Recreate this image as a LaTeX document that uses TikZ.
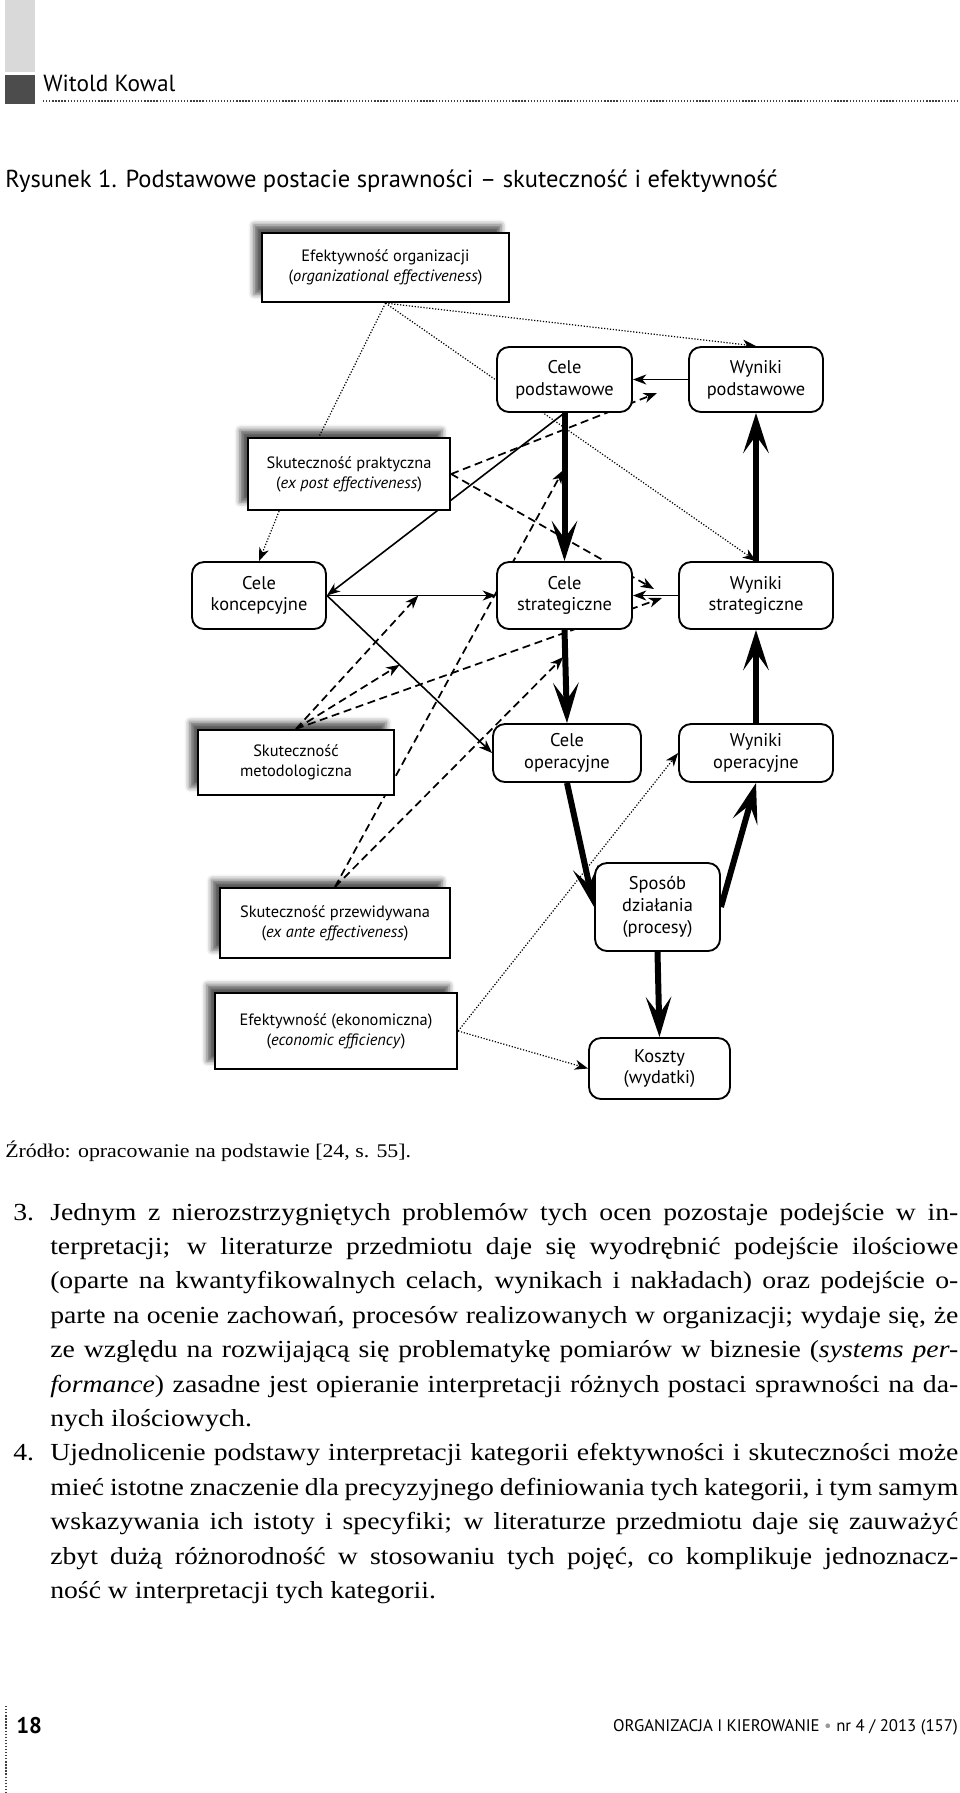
\documentclass[tikz,border=0pt]{standalone}
\usepackage{fontspec}
\setmainfont[FakeStretch=1.13]{Liberation Serif}
\newfontfamily\diagfont{PT Sans}
\usetikzlibrary{arrows.meta,shadows.blur}
\pgfdeclarelayer{bg}
\pgfsetlayers{bg,main}

\begin{document}
\begin{tikzpicture}[x=0.75pt,y=0.75pt,yscale=-1,xscale=1,
  celbox/.style={draw, line width=1.4pt, rounded corners=9pt, fill=white, align=center, inner sep=0pt,
    font=\diagfont\fontsize{13.8}{16.3}\selectfont},
  skubox/.style={draw, line width=1.7pt, fill=white, align=center, inner sep=0pt,
    font=\diagfont\fontsize{12.3}{15}\selectfont,
    blur shadow={shadow xshift=-6pt, shadow yshift=6pt, shadow blur radius=4pt, shadow opacity=65}},
  linia/.style={line width=1.2pt, -{Stealth[length=10pt,width=7.5pt,inset=3pt]}},
  kreski/.style={line width=1.3pt, dash pattern=on 6pt off 3.5pt, -{Stealth[length=10pt,width=7.5pt,inset=3pt]}},
  kropki/.style={line width=0.9pt, dash pattern=on 0.9pt off 1.3pt, -{Stealth[length=10pt,width=7.5pt,inset=3pt]}},
  gruba/.style={line width=4.5pt, -{Stealth[length=30pt,width=19pt,inset=13pt]}},
  tekst/.style={inner sep=0pt, anchor=base west, font=\fontsize{18.4}{22}\selectfont},
  ]
\useasboundingbox (0,0) rectangle (960,1793);

% Header
\fill [black!15] (5,0) rectangle (35,72);
\fill [black!70] (5,75) rectangle (35,104);
\draw (43,91) node (autor) [anchor=base west, inner sep=0pt, font=\diagfont\fontsize{17.5}{20}\selectfont] {Witold Kowal};
\draw [black!75, line width=1.1pt, dash pattern=on 1pt off 1.3pt] (43,101) -- (960,101);

% Caption
\draw (5,187) node (rys) [anchor=base west, inner sep=0pt, font=\diagfont\fontsize{18.4}{22}\selectfont] {Rysunek 1. Podstawowe postacie sprawności – skuteczność i efektywność};

% Text Node
\draw (385.5,267.5) node (eo) [skubox, minimum width=185.25pt, minimum height=51.75pt] {Efektywność organizacji\\(\textit{organizational effectiveness})};
% Text Node
\draw (564.5,379.5) node (cp) [celbox, minimum width=101.25pt, minimum height=48.75pt] {Cele\\podstawowe};
% Text Node
\draw (756,379.5) node (wp) [celbox, minimum width=100.5pt, minimum height=48.75pt] {Wyniki\\podstawowe};
% Text Node
\draw (349,474) node (sp) [skubox, minimum width=151.5pt, minimum height=54pt] {Skuteczność praktyczna\\(\textit{ex post effectiveness})};
% Text Node
\draw (259,595.5) node (ck) [celbox, minimum width=100.5pt, minimum height=50.25pt] {Cele\\koncepcyjne};
% Text Node
\draw (564.5,595.5) node (cs) [celbox, minimum width=101.25pt, minimum height=50.25pt] {Cele\\strategiczne};
% Text Node
\draw (756,595.5) node (ws) [celbox, minimum width=115.5pt, minimum height=50.25pt] {Wyniki\\strategiczne};
% Text Node
\draw (296,762.5) node (sm) [skubox, minimum width=147pt, minimum height=48.75pt] {Skuteczność\\metodologiczna};
% Text Node
\draw (567,753) node (co) [celbox, minimum width=111pt, minimum height=43.5pt] {Cele\\operacyjne};
% Text Node
\draw (756,753) node (wo) [celbox, minimum width=115.5pt, minimum height=43.5pt] {Wyniki\\operacyjne};
% Text Node
\draw (335,923) node (spz) [skubox, minimum width=172.5pt, minimum height=52.5pt] {Skuteczność przewidywana\\(\textit{ex ante effectiveness})};
% Text Node
\draw (657.5,907) node (sd) [celbox, minimum width=93.75pt, minimum height=66pt] {Sposób\\działania\\(procesy)};
% Text Node
\draw (336,1031) node (ee) [skubox, minimum width=181.5pt, minimum height=57pt] {Efektywność (ekonomiczna)\\(\textit{economic efficiency})};
% Text Node
\draw (659.5,1068.5) node (ko) [celbox, minimum width=105.75pt, minimum height=45.75pt] {Koszty\\(wydatki)};

% free ends of the dashed arrows
\coordinate (gs) at (657,393);
\coordinate (kt) at (654,589);
\coordinate (kb) at (662,598);

\begin{pgfonlayer}{bg}
% Connection
\draw [kropki] (eo.south) -- (wp.north);
% Connection
\draw [kropki] (eo.south) -- (ws.north);
% Connection
\draw [kropki, -] (eo.south) -- (sp.129);
% Connection
\draw [kropki] (sp.208) -- (ck.north);
% Connection
\draw [kropki] (ee.east) -- (ko.west);
% Connection
\draw [kropki] (ee.east) -- (wo.west);
% Connection
\draw [linia] (wp.west) -- (cp.east);
% Connection
\draw [linia] (cp.south) -- (ck.east);
% Connection
\draw [linia] (ck.east) -- coordinate[pos=0.54] (it) (cs.west);
% Connection
\draw [linia] (ck.east) -- coordinate[pos=0.44] (jt) (co.west);
% Connection
\draw [linia] (ws.west) -- (cs.east);
% Connection
\draw [gruba] (cp.south) -- coordinate[pos=0.37] (lt) (cs.north);
% Connection
\draw [gruba] (ws.north) -- (wp.south);
% Connection
\draw [gruba] (cs.south) -- coordinate[pos=0.27] (nt) (co.north);
% Connection
\draw [gruba] (wo.north) -- (ws.south);
% Connection
\draw [gruba] (co.south) -- (sd.west);
% Connection
\draw [gruba] (sd.east) -- (wo.south);
% Connection
\draw [gruba] (sd.south) -- (ko.north);
% Connection
\draw [kreski] (sp.east) -- (gs);
% Connection
\draw [kreski] (sp.east) -- (kt);
% Connection
\draw [kreski] (sm.north) -- (it);
% Connection
\draw [kreski] (sm.north) -- (jt);
% Connection
\draw [kreski] (sm.north) -- (kb);
% Connection
\draw [kreski, shorten >=2pt] (spz.north) -- (lt);
% Connection
\draw [kreski, shorten >=2pt] (spz.north) -- (nt);
\end{pgfonlayer}

% Source
\draw (5,1157) node (zrodlo) [anchor=base west, inner sep=0pt, font=\fontsize{14.5}{17}\selectfont] {Źródło: opracowanie na podstawie [24, s. 55].};

% Text Node
\draw (13,1220) node (nr3) [tekst] {3.};
\draw (50,1220) node (w1) [tekst] {\makebox[681pt][s]{Jednym z nierozstrzygniętych problemów tych ocen pozostaje podejście w in-}};
\draw (50,1254.4) node (w2) [tekst] {\makebox[681pt][s]{terpretacji; w literaturze przedmiotu daje się wyodrębnić podejście ilościowe}};
\draw (50,1288.8) node (w3) [tekst] {\makebox[681pt][s]{(oparte na kwantyfikowalnych celach, wynikach i nakładach) oraz podejście o-}};
\draw (50,1323.2) node (w4) [tekst] {\makebox[681pt][s]{parte na ocenie zachowań, procesów realizowanych w organizacji; wydaje się, że}};
\draw (50,1357.6) node (w5) [tekst] {\makebox[681pt][s]{ze względu na rozwijającą się problematykę pomiarów w biznesie (\textit{systems per-}}};
\draw (50,1392) node (w6) [tekst] {\makebox[681pt][s]{\textit{formance}) zasadne jest opieranie interpretacji różnych postaci sprawności na da-}};
\draw (50,1426.4) node (w7) [tekst] {nych ilościowych.};
% Text Node
\draw (13,1460.8) node (nr4) [tekst] {4.};
\draw (50,1460.8) node (w8) [tekst] {\makebox[681pt][s]{Ujednolicenie podstawy interpretacji kategorii efektywności i skuteczności może}};
\draw (50,1495.2) node (w9) [tekst] {\makebox[681pt][s]{mieć istotne znaczenie dla precyzyjnego definiowania tych kategorii, i tym samym}};
\draw (50,1529.6) node (w10) [tekst] {\makebox[681pt][s]{wskazywania ich istoty i specyfiki; w literaturze przedmiotu daje się zauważyć}};
\draw (50,1564) node (w11) [tekst] {\makebox[681pt][s]{zbyt dużą różnorodność w stosowaniu tych pojęć, co komplikuje jednoznacz-}};
\draw (50,1598.4) node (w12) [tekst] {ność w interpretacji tych kategorii.};

% Footer
\draw [black!75, line width=1.1pt, dash pattern=on 1pt off 1.3pt] (6,1706) -- (6,1793);
\draw (16,1733) node (strona) [anchor=base west, inner sep=0pt, font=\diagfont\bfseries\fontsize{17}{20}\selectfont] {18};
\draw (958,1731) node (stopka) [anchor=base east, inner sep=0pt, font=\diagfont\fontsize{12.6}{14}\selectfont] {ORGANIZACJA I KIEROWANIE {\color{black!40}•} nr 4 / 2013 (157)};
\end{tikzpicture}
\end{document}
